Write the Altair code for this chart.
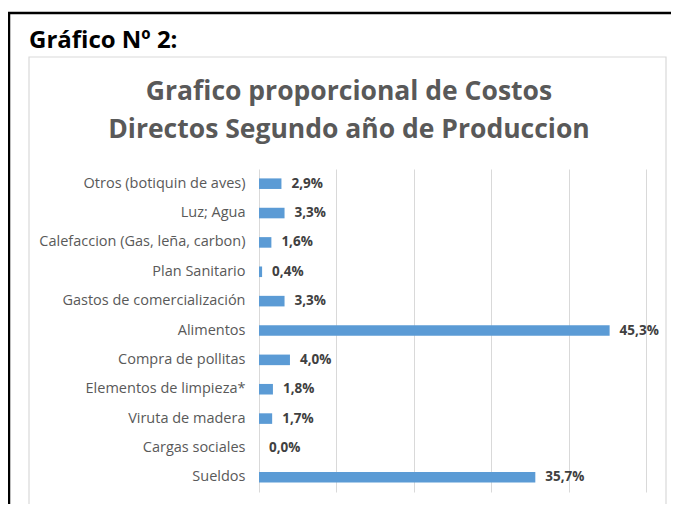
import altair as alt
import pandas as pd

categories = [
    "Otros (botiquin de aves)",
    "Luz; Agua",
    "Calefaccion (Gas, leña, carbon)",
    "Plan Sanitario",
    "Gastos de comercialización",
    "Alimentos",
    "Compra de pollitas",
    "Elementos de limpieza*",
    "Viruta de madera",
    "Cargas sociales",
    "Sueldos",
]
values = [2.9, 3.3, 1.6, 0.4, 3.3, 45.3, 4.0, 1.8, 1.7, 0.0, 35.7]
grid_ticks = [0, 10, 20, 30, 40, 50]
header = "Gráfico Nº 2:"
title_lines = ["Grafico proporcional de Costos", "Directos Segundo año de Produccion"]

df = pd.DataFrame({"cat": categories, "val": values})

FONT = "Open Sans"
W, H = 387, 323

y_enc = alt.Y(
    "cat:N",
    sort=categories,
    scale=alt.Scale(paddingInner=0.64, paddingOuter=0.32),
    axis=alt.Axis(
        title=None, ticks=False, domain=False, labelFont=FONT, labelFontSize=14.5,
        labelColor="#595959", labelPadding=14, labelLimit=300, zindex=1,
    ),
)
x_enc = alt.X(
    "val:Q",
    scale=alt.Scale(domain=[0, 50], nice=False),
    axis=alt.Axis(
        title=None, values=grid_ticks, labels=False, ticks=False, domain=False,
        grid=True, gridColor="#d9d9d9", gridWidth=1, zindex=0,
    ),
)

one = alt.Data(values=[{}])

outer = alt.Chart(one).mark_rect(fillOpacity=0, stroke="black", strokeWidth=2.5).encode(
    x=alt.value(-250), x2=alt.value(430), y=alt.value(-156), y2=alt.value(350)
)
inner = alt.Chart(one).mark_rect(fillOpacity=0, stroke="#d9d9d9", strokeWidth=1.2).encode(
    x=alt.value(-230), x2=alt.value(407), y=alt.value(-112), y2=alt.value(336)
)

bars = alt.Chart(df).mark_bar(color="#5B9BD5", clip=False).encode(x=x_enc, y=y_enc)

labels = (
    alt.Chart(df)
    .transform_calculate(lab="replace(format(datum.val, '.1f'), '.', ',') + '%'")
    .mark_text(align="left", baseline="middle", dx=10, font=FONT, fontSize=13.5,
               fontWeight="bold", color="#404040")
    .encode(x="val:Q", y=alt.Y("cat:N", sort=categories), text="lab:N")
)

head = alt.Chart(one).mark_text(
    text=header, align="left", baseline="alphabetic", font=FONT, fontSize=24,
    fontWeight="bold", color="black",
).encode(x=alt.value(-230), y=alt.value(-121))

t1 = alt.Chart(one).mark_text(
    text=title_lines[0], align="center", baseline="alphabetic", font=FONT, fontSize=26.5,
    fontWeight="bold", color="#595959",
).encode(x=alt.value(90), y=alt.value(-69))
t2 = alt.Chart(one).mark_text(
    text=title_lines[1], align="center", baseline="alphabetic", font=FONT, fontSize=26.5,
    fontWeight="bold", color="#595959",
).encode(x=alt.value(90), y=alt.value(-31))

chart = (
    alt.layer(outer, inner, bars, labels, head, t1, t2)
    .properties(
        width=W, height=H,
        autosize=alt.AutoSizeParams(type="none"),
        padding={"left": 251, "top": 161, "right": 25, "bottom": 12},
        background="white",
    )
    .configure_view(stroke=None)
)

chart.save("out.html", embed_options={"renderer": "svg", "actions": False})
